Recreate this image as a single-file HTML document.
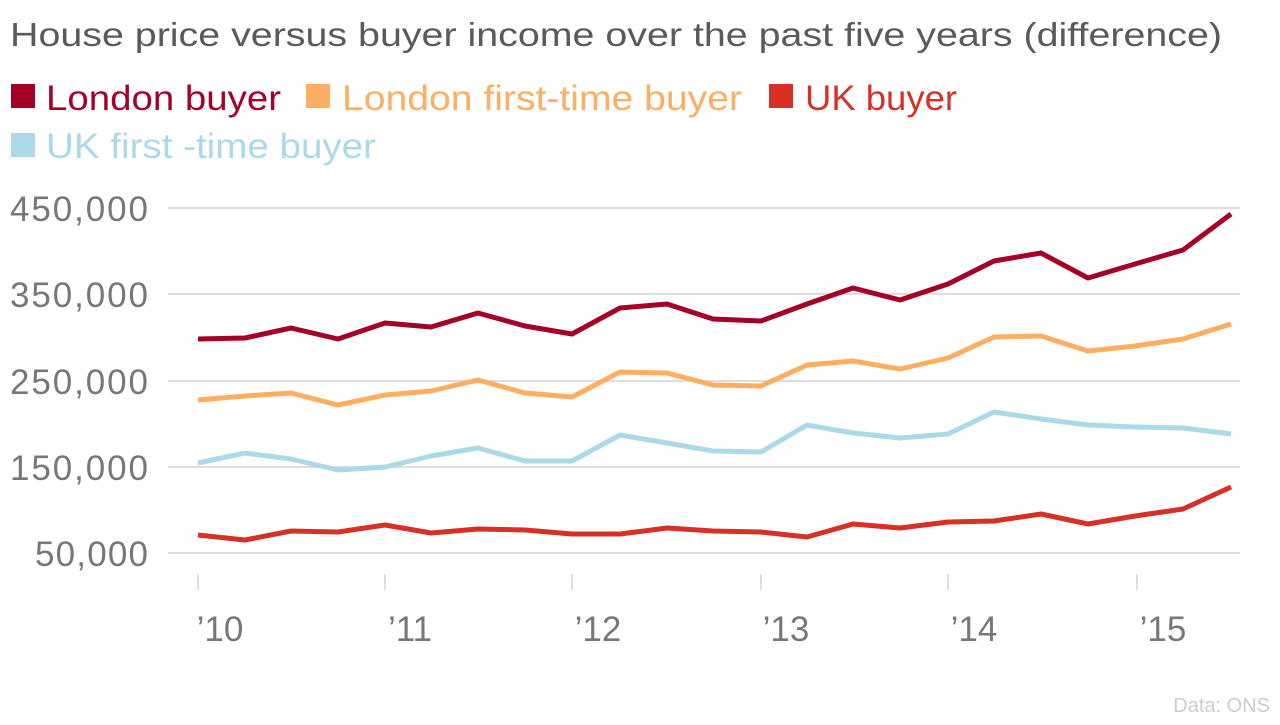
<!DOCTYPE html>
<html><head><meta charset="utf-8"><style>
body{margin:0;width:1280px;height:720px;background:#fff;overflow:hidden;font-family:"Liberation Sans",sans-serif}
</style></head><body>
<svg width="1280" height="720" xmlns="http://www.w3.org/2000/svg" font-family="Liberation Sans, sans-serif">
<text x="10" y="46" font-size="33" fill="#5a5a5a" textLength="1212" lengthAdjust="spacingAndGlyphs">House price versus buyer income over the past five years (difference)</text>
<rect x="11" y="84" width="24" height="24" fill="#a50026"/>
<text x="46" y="110" font-size="35" fill="#a50026" textLength="235" lengthAdjust="spacingAndGlyphs">London buyer</text>
<rect x="306" y="84" width="24" height="24" fill="#fdae61"/>
<text x="342" y="110" font-size="35" fill="#fdae61" textLength="400" lengthAdjust="spacingAndGlyphs">London first-time buyer</text>
<rect x="769" y="84" width="24" height="24" fill="#d73027"/>
<text x="805" y="110" font-size="35" fill="#d73027" textLength="152" lengthAdjust="spacingAndGlyphs">UK buyer</text>
<rect x="11" y="133" width="24" height="24" fill="#abd9e9"/>
<text x="46" y="158" font-size="35" fill="#abd9e9" textLength="330" lengthAdjust="spacingAndGlyphs">UK first -time buyer</text>
<g stroke="#d4d4d4" stroke-width="1.5">
<line x1="168" y1="208" x2="1240" y2="208"/><line x1="168" y1="294" x2="1240" y2="294"/><line x1="168" y1="381" x2="1240" y2="381"/><line x1="168" y1="467" x2="1240" y2="467"/><line x1="168" y1="553" x2="1240" y2="553"/>
<line x1="198" y1="574" x2="198" y2="590"/><line x1="385" y1="574" x2="385" y2="590"/><line x1="572" y1="574" x2="572" y2="590"/><line x1="761" y1="574" x2="761" y2="590"/><line x1="948" y1="574" x2="948" y2="590"/><line x1="1137" y1="574" x2="1137" y2="590"/>
</g>
<g font-size="35" fill="#777" text-anchor="end" lengthAdjust="spacingAndGlyphs">
<text x="148" y="221" textLength="138">450,000</text><text x="148" y="307" textLength="138">350,000</text><text x="148" y="394" textLength="138">250,000</text><text x="148" y="480" textLength="138">150,000</text><text x="148" y="566" textLength="113">50,000</text>
</g>
<g font-size="35" fill="#777" text-anchor="middle">
<text x="220" y="641">’10</text><text x="410" y="641">’11</text><text x="598" y="641">’12</text><text x="786" y="641">’13</text><text x="974" y="641">’14</text><text x="1163" y="641">’15</text>
</g>
<g fill="none" stroke-width="5" stroke-linejoin="round">
<polyline stroke="#a50026" points="198,339 245,338 291,328 338,339 385,323 431,327 478,313 525,326 572,334 620,308 667,304 713,319 761,321 807,304 853,288 900,300 948,284 994,261 1041,253 1088,278 1135,264 1183,250 1231,214"/>
<polyline stroke="#fdae61" points="198,400 245,396 291,393 338,405 385,395 431,391 478,380 525,393 572,397 620,372 667,373 713,385 761,386 807,365 853,361 900,369 948,358 994,337 1041,336 1088,351 1135,346 1183,339 1231,324"/>
<polyline stroke="#abd9e9" points="198,463 245,453 291,459 338,470 385,467 431,456 478,448 525,461 572,461 620,435 667,443 713,451 761,452 807,425 853,433 900,438 948,434 994,412 1041,419 1088,425 1135,427 1183,428 1231,434"/>
<polyline stroke="#d73027" points="198,535 245,540 291,531 338,532 385,525 431,533 478,529 525,530 572,534 620,534 667,528 713,531 761,532 807,537 853,524 900,528 948,522 994,521 1041,514 1088,524 1135,516 1183,509 1231,487"/>
</g>
<text x="1270" y="712" font-size="20" fill="#ccc" text-anchor="end">Data: ONS</text>
</svg>
</body></html>
